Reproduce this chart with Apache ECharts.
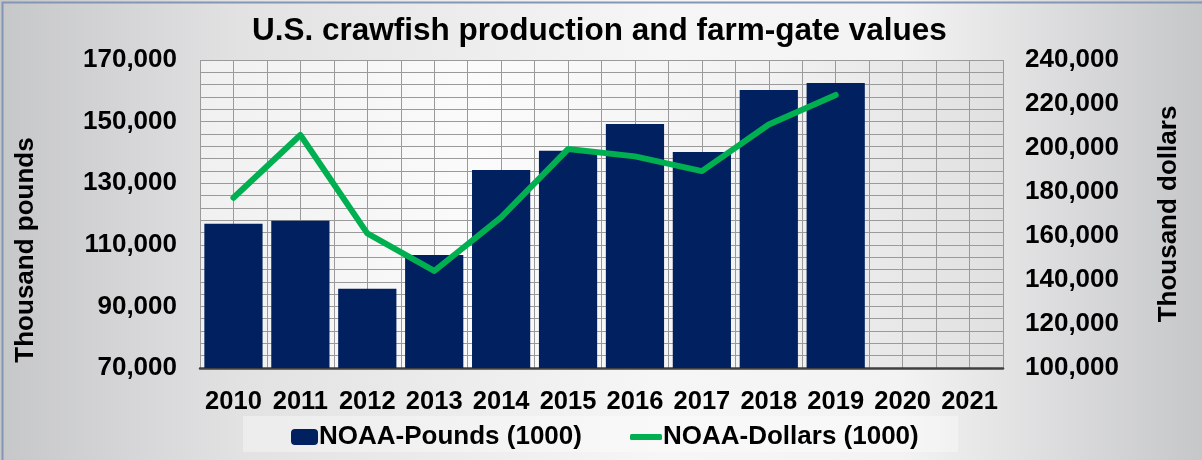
<!DOCTYPE html>
<html>
<head>
<meta charset="utf-8">
<script src="https://cdn.jsdelivr.net/npm/echarts@6/dist/echarts.min.js"></script>
<style>
html,body{margin:0;padding:0;}
#c{width:1202px;height:460px;}
</style>
</head>
<body>
<div id="c"></div>
<script>
const categories = ['2010','2011','2012','2013','2014','2015','2016','2017','2018','2019','2020','2021'];
const poundsValues = [116800, 117800, 95700, 106700, 134300, 140500, 149200, 140100, 160300, 162500, null, null];
const dollarsValues = [177400, 205900, 161200, 144100, 168500, 199500, 196200, 189500, 210700, 224100, null, null];
const leftTicks = {min: 70000, max: 170000, interval: 20000};
const rightTicks = {min: 100000, max: 240000, interval: 20000};

const FONT = "'Liberation Sans', Arial, sans-serif";
const fmt = v => v.toLocaleString('en-US');
const halfCats = categories.flatMap(c => [c + 'a', c + 'b']);

const chart = echarts.init(document.getElementById('c'), null, {renderer: 'canvas'});
chart.setOption({
  animation: false,
  backgroundColor: new echarts.graphic.LinearGradient(0, 0, 1, 0, [
    {offset: 0, color: '#c6c7c9'},
    {offset: 0.2, color: '#e2e2e3'},
    {offset: 0.55, color: '#f6f6f6'},
    {offset: 0.75, color: '#f3f3f3'},
    {offset: 1, color: '#c6c7c9'}
  ]),
  graphic: [
    {type: 'rect', left: 243, top: 416, shape: {width: 715, height: 36},
     style: {fill: 'rgba(255,255,255,0.35)'}, z: -1},
    {type: 'rect', left: 0, top: 0, shape: {width: 1201, height: 459},
     style: {fill: 'none', stroke: '#8396b4', lineWidth: 2}, z: 100}
  ],
  title: {
    text: 'U.S. crawfish production and farm-gate values',
    left: 247, top: 10,
    textStyle: {fontFamily: FONT, fontSize: 31.5, fontWeight: 'bold', color: '#000'}
  },
  legend: [
    {
      data: ['NOAA-Pounds (1000)'],
      left: 286, top: 419,
      itemWidth: 27, itemHeight: 16, itemGap: 0,
      textStyle: {fontFamily: FONT, fontSize: 26, fontWeight: 'bold', color: '#000', padding: [0,0,0,-4]}
    },
    {
      data: [{name: 'NOAA-Dollars (1000)', icon: 'roundRect'}],
      left: 625, top: 419,
      itemWidth: 32, itemHeight: 6,
      textStyle: {fontFamily: FONT, fontSize: 26, fontWeight: 'bold', color: '#000', padding: [0,0,0,-4]}
    }
  ],
  grid: {
    left: 200, right: 199, top: 60, bottom: 92,
    show: true,
    borderWidth: 0,
    backgroundColor: new echarts.graphic.LinearGradient(0, 0, 1, 0, [
      {offset: 0, color: '#f0f0f0'},
      {offset: 0.35, color: '#fbfbfb'},
      {offset: 0.7, color: '#f2f2f2'},
      {offset: 1, color: '#e0e0e0'}
    ])
  },
  xAxis: [
    {
      type: 'category',
      data: categories,
      axisLine: {show: true, lineStyle: {color: '#404040', width: 2.5}},
      axisTick: {show: false},
      axisLabel: {interval: 0, fontFamily: FONT, fontSize: 25.5, fontWeight: 'bold', color: '#000', margin: 21},
      splitLine: {show: false}
    },
    {
      type: 'category',
      data: halfCats,
      position: 'bottom',
      axisLine: {show: false},
      axisTick: {show: false, interval: 0},
      axisLabel: {show: false, interval: 0},
      splitLine: {show: true, interval: 0, lineStyle: {color: '#9a9a9a', width: 1}}
    }
  ],
  yAxis: [
    {
      type: 'value',
      min: leftTicks.min, max: leftTicks.max, interval: leftTicks.interval,
      name: 'Thousand pounds',
      nameLocation: 'middle',
      nameGap: 161,
      nameTextStyle: {fontFamily: FONT, fontSize: 26, fontWeight: 'bold', color: '#000', padding: [0, 72, 0, 0]},
      axisLine: {show: false},
      axisTick: {show: false},
      axisLabel: {fontFamily: FONT, fontSize: 26, fontWeight: 'bold', color: '#000', margin: 23, formatter: fmt},
      splitLine: {show: true, lineStyle: {color: '#9a9a9a', width: 1}},
      minorTick: {show: false, splitNumber: 5},
      minorSplitLine: {show: true, lineStyle: {color: '#9a9a9a', width: 1}}
    },
    {
      type: 'value',
      min: rightTicks.min, max: rightTicks.max, interval: rightTicks.interval,
      name: 'Thousand dollars',
      nameLocation: 'middle',
      nameGap: 153,
      nameTextStyle: {fontFamily: FONT, fontSize: 26, fontWeight: 'bold', color: '#000'},
      axisLine: {show: false},
      axisTick: {show: false},
      axisLabel: {fontFamily: FONT, fontSize: 26, fontWeight: 'bold', color: '#000', margin: 22, formatter: fmt},
      splitLine: {show: false}
    }
  ],
  series: [
    {
      name: 'NOAA-Pounds (1000)',
      type: 'bar',
      xAxisIndex: 0, yAxisIndex: 0,
      data: poundsValues,
      barCategoryGap: '13%',
      itemStyle: {color: '#00205f'}
    },
    {
      name: 'NOAA-Dollars (1000)',
      type: 'line',
      xAxisIndex: 0, yAxisIndex: 1,
      data: dollarsValues,
      symbol: 'none',
      lineStyle: {color: '#00b050', width: 6, cap: 'round', join: 'round'},
      itemStyle: {color: '#00b050'},
      z: 5
    }
  ]
});
</script>
</body>
</html>
